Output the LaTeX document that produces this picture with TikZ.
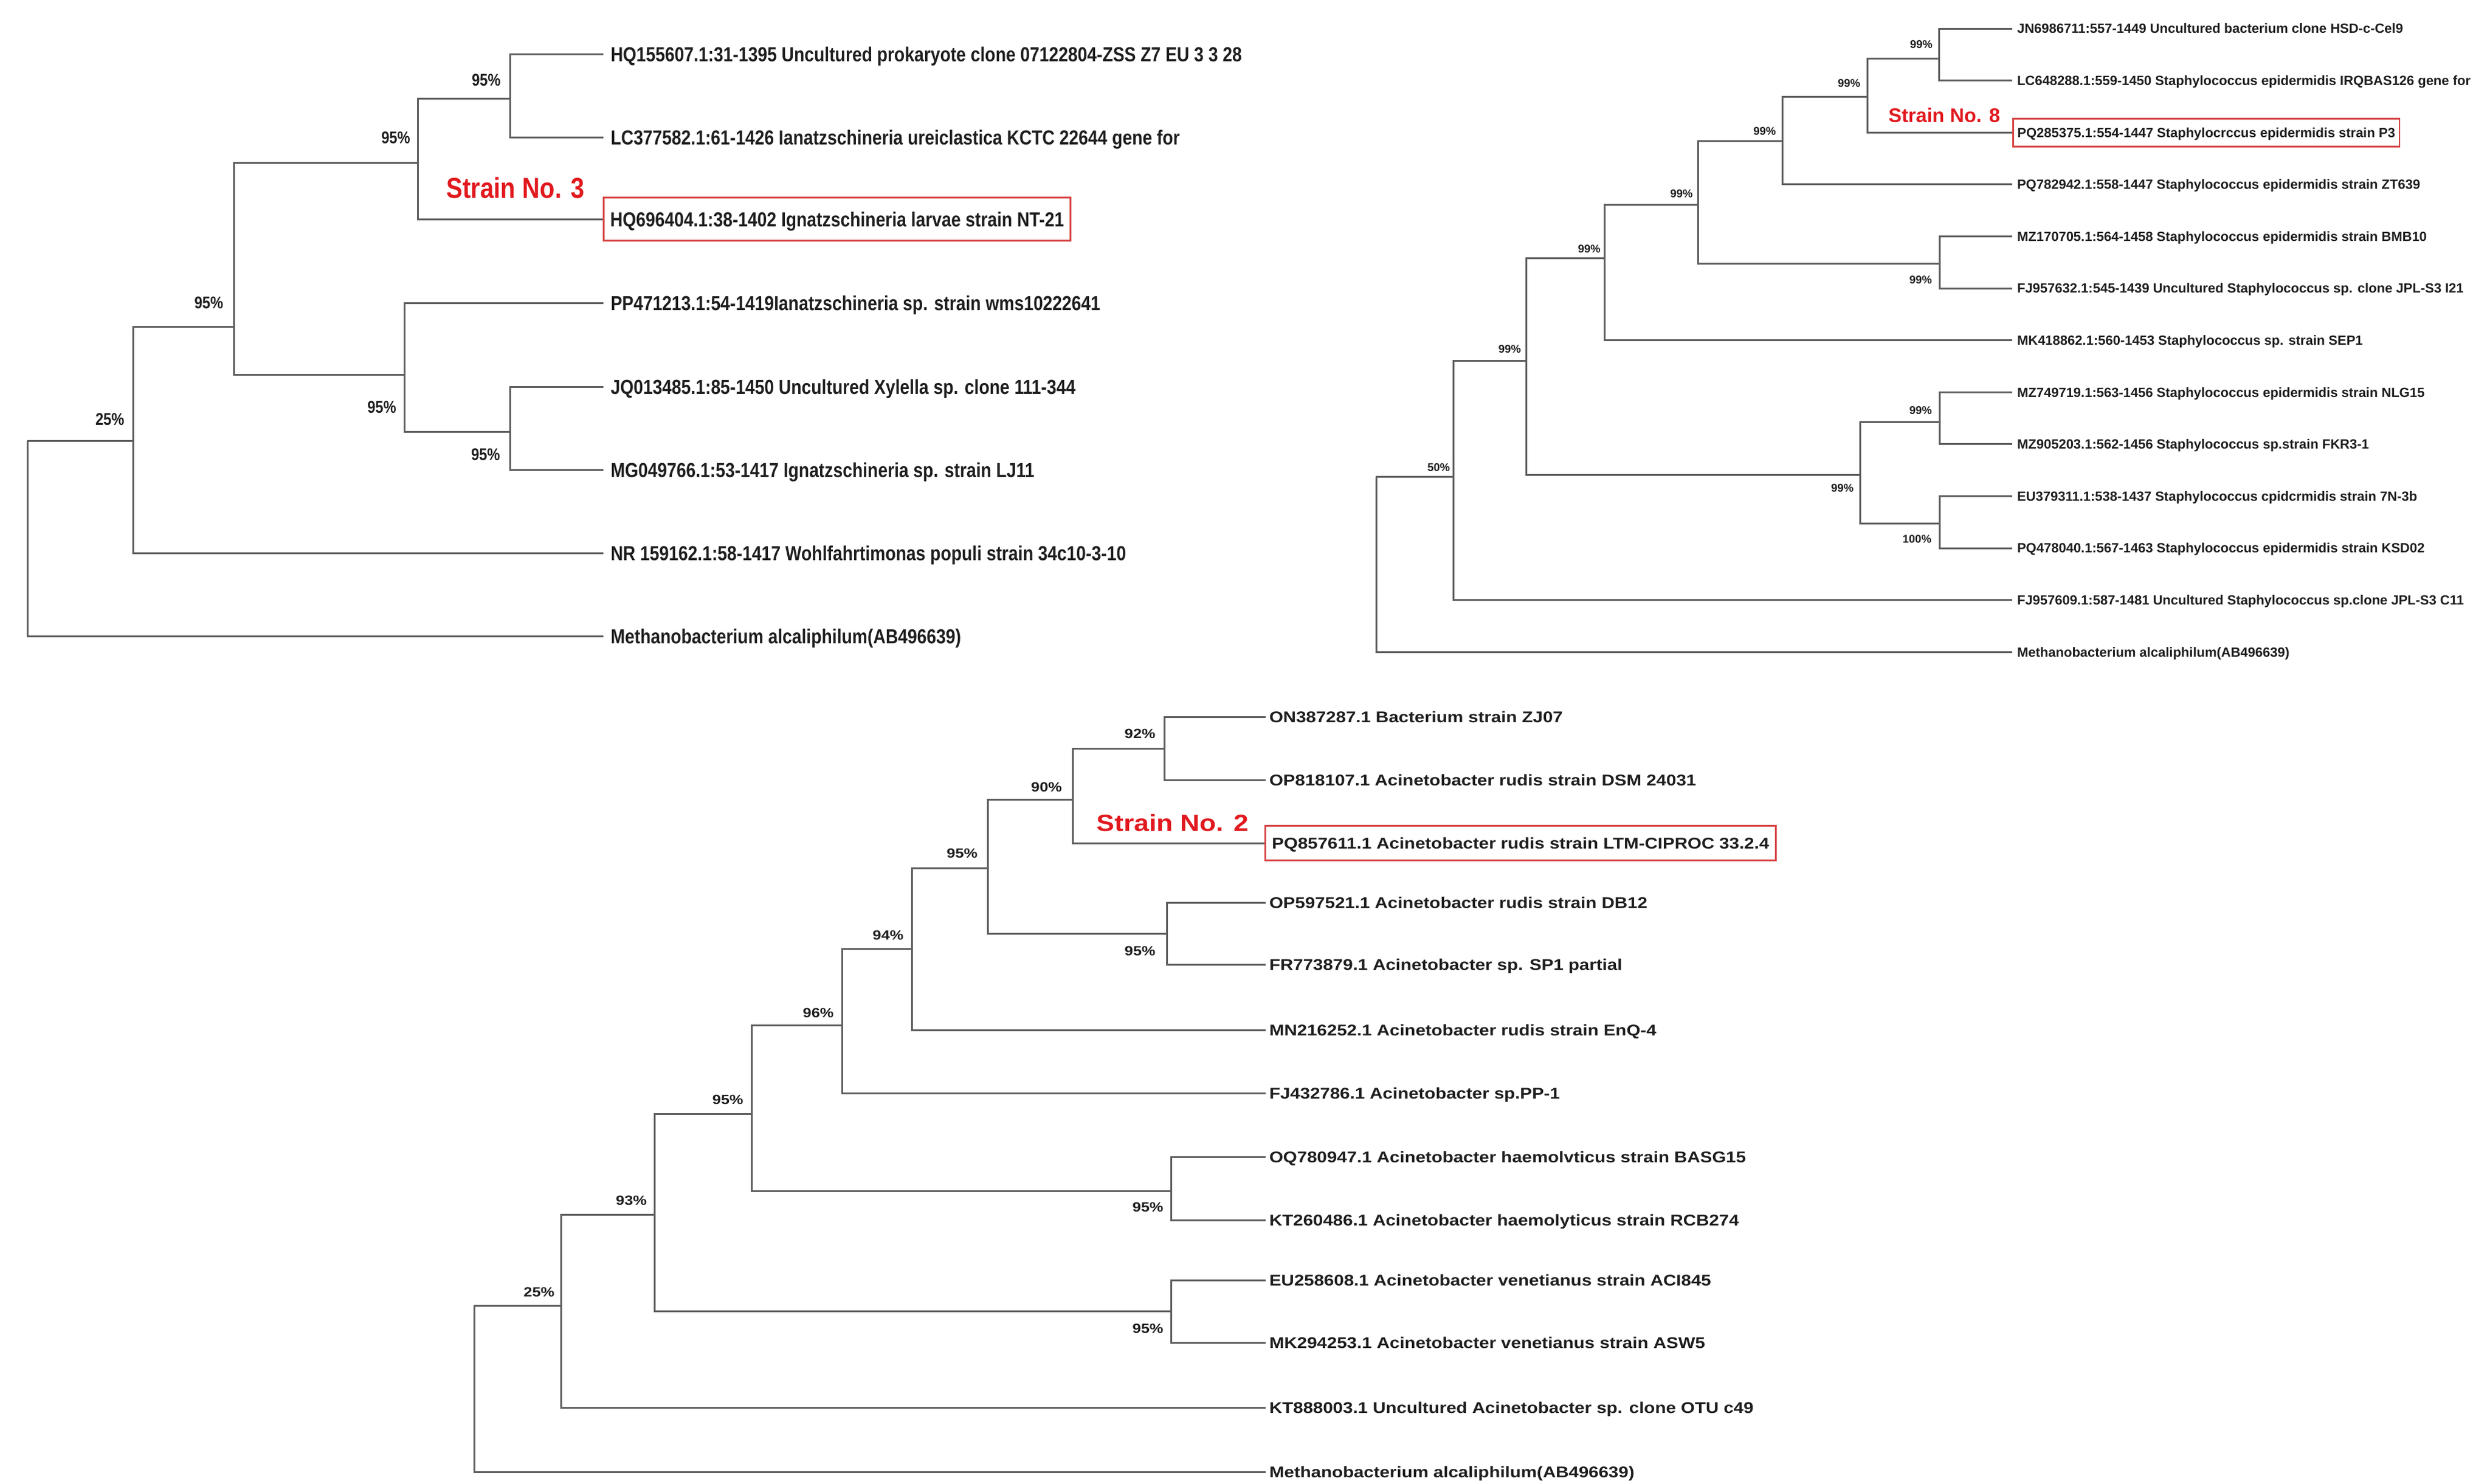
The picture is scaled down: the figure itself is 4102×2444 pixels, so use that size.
\documentclass[tikz,border=0pt]{standalone}
\usepackage{fontspec}
\newfontfamily\tlfont[FakeStretch=0.845]{Liberation Sans Bold}
\newfontfamily\trfont{Liberation Sans Bold}
\newfontfamily\btfont[FakeStretch=1.15]{Liberation Sans Bold}
\definecolor{lin}{RGB}{95,95,95}
\definecolor{sred}{RGB}{225,25,30}
\definecolor{bred}{RGB}{215,70,70}
\definecolor{txt}{RGB}{30,30,30}
\tikzset{
  br/.style={draw=lin, line width=0.6pt},
  tlleaf/.style={anchor=west, inner xsep=2.2pt, inner ysep=0pt, text=txt,
    font=\tlfont\fontsize{6.7pt}{6.7pt}\selectfont, text height=4.8pt, text depth=0pt},
  tlbox/.style={tlleaf, draw=bred, line width=0.55pt, minimum height=14.2pt, inner xsep=2.2pt},
  tlpct/.style={inner sep=0pt, text=txt, font=\tlfont\fontsize{5.6pt}{5.6pt}\selectfont},
  tlstrain/.style={inner sep=0pt, text=sred, font=\tlfont\fontsize{9.5pt}{9.5pt}\selectfont},
  trleaf/.style={anchor=west, inner xsep=1.4pt, inner ysep=0pt, text=txt,
    font=\trfont\fontsize{4.4pt}{4.4pt}\selectfont, text height=3.15pt, text depth=0pt},
  trbox/.style={trleaf, draw=bred, line width=0.55pt, minimum height=9.2pt},
  trpct/.style={inner sep=0pt, text=txt, font=\trfont\fontsize{3.7pt}{3.7pt}\selectfont},
  trstrain/.style={inner sep=0pt, text=sred, font=\trfont\fontsize{6.5pt}{6.5pt}\selectfont},
  bleaf/.style={anchor=west, inner xsep=1pt, inner ysep=0pt, text=txt,
    font=\btfont\fontsize{5.13pt}{5.13pt}\selectfont, text height=3.67pt, text depth=0pt},
  bbox/.style={bleaf, draw=bred, line width=0.55pt, minimum height=11.4pt, inner xsep=2.2pt},
  bpct/.style={inner sep=0pt, text=txt, font=\btfont\fontsize{4.4pt}{4.4pt}\selectfont},
  bstrain/.style={inner sep=0pt, text=sred, font=\btfont\fontsize{7.7pt}{7.7pt}\selectfont},
}
\begin{document}
\begin{tikzpicture}[x=0.2pt, y=-0.2pt]
\useasboundingbox[fill=white] (0,0) rectangle (4102,2444);

% ================= TOP-LEFT TREE =================
\node[tlleaf] (tl1) at (994,89) {HQ155607.1:31-1395 Uncultured prokaryote clone 07122804-ZSS Z7 EU 3 3 28};
\node[tlleaf] (tl2) at (994,226) {LC377582.1:61-1426 Ianatzschineria ureiclastica KCTC 22644 gene for};
\node[tlbox]  (tl3) at (993,361) {HQ696404.1:38-1402 Ignatzschineria larvae strain NT-21};
\node[tlleaf] (tl4) at (994,499) {PP471213.1:54-1419Ianatzschineria sp. strain wms10222641};
\node[tlleaf] (tl5) at (994,637) {JQ013485.1:85-1450 Uncultured Xylella sp. clone 111-344};
\node[tlleaf] (tl6) at (994,774) {MG049766.1:53-1417 Ignatzschineria sp. strain LJ11};
\node[tlleaf] (tl7) at (994,911) {NR 159162.1:58-1417 Wohlfahrtimonas populi strain 34c10-3-10};
\node[tlleaf] (tl8) at (994,1048) {Methanobacterium alcaliphilum(AB496639)};
\coordinate (tla) at (840,162);
\coordinate (tlb) at (688,268);
\coordinate (tlc) at (840,711);
\coordinate (tld) at (666,617);
\coordinate (tle) at (385,538);
\coordinate (tlF) at (219,726);
\coordinate (tlr) at (45,726);
\draw[br] (tla) |- (tl1.west);
\draw[br] (tla) |- (tl2.west);
\draw[br] (tlb) |- (tla);
\draw[br] (tlb) |- (tl3.west);
\draw[br] (tlc) |- (tl5.west);
\draw[br] (tlc) |- (tl6.west);
\draw[br] (tld) |- (tl4.west);
\draw[br] (tld) |- (tlc);
\draw[br] (tle) |- (tlb);
\draw[br] (tle) |- (tld);
\draw[br] (tlF) |- (tle);
\draw[br] (tlF) |- (tl7.west);
\draw[br] (tlr) |- (tlF);
\draw[br] (tlr) |- (tl8.west);
\node[tlpct] (tlpa) at (801,132) {95\%};
\node[tlpct] (tlpb) at (652,227) {95\%};
\node[tlpct] (tlpe) at (344,499) {95\%};
\node[tlpct] (tlpd) at (629,671) {95\%};
\node[tlpct] (tlpc) at (800,749) {95\%};
\node[tlpct] (tlpf) at (181,691) {25\%};
\node[tlstrain] (tls) at (849,310) {Strain No. 3};

% ================= TOP-RIGHT TREE =================
\node[trleaf] (tr1)  at (3315,47)    {JN6986711:557-1449 Uncultured bacterium clone HSD-c-Cel9};
\node[trleaf] (tr2)  at (3315,132.6) {LC648288.1:559-1450 Staphylococcus epidermidis IRQBAS126 gene for};
\node[trbox]  (tr3)  at (3315,218.2) {PQ285375.1:554-1447 Staphylocrccus epidermidis strain P3};
\node[trleaf] (tr4)  at (3315,303.8) {PQ782942.1:558-1447 Staphylococcus epidermidis strain ZT639};
\node[trleaf] (tr5)  at (3315,389.4) {MZ170705.1:564-1458 Staphylococcus epidermidis strain BMB10};
\node[trleaf] (tr6)  at (3315,475)   {FJ957632.1:545-1439 Uncultured Staphylococcus sp. clone JPL-S3 I21};
\node[trleaf] (tr7)  at (3315,560.6) {MK418862.1:560-1453 Staphylococcus sp. strain SEP1};
\node[trleaf] (tr8)  at (3315,646.2) {MZ749719.1:563-1456 Staphylococcus epidermidis strain NLG15};
\node[trleaf] (tr9)  at (3315,731.8) {MZ905203.1:562-1456 Staphylococcus sp.strain FKR3-1};
\node[trleaf] (tr10) at (3315,817.4) {EU379311.1:538-1437 Staphylococcus cpidcrmidis strain 7N-3b};
\node[trleaf] (tr11) at (3315,903)   {PQ478040.1:567-1463 Staphylococcus epidermidis strain KSD02};
\node[trleaf] (tr12) at (3315,988.6) {FJ957609.1:587-1481 Uncultured Staphylococcus sp.clone JPL-S3 C11};
\node[trleaf] (tr13) at (3315,1074.2) {Methanobacterium alcaliphilum(AB496639)};
\coordinate (trg) at (3194,96);
\coordinate (trh) at (3076,159);
\coordinate (tri) at (2936,232);
\coordinate (trj) at (3195,434);
\coordinate (trk) at (2797,337);
\coordinate (trl) at (2643,425);
\coordinate (trm) at (3195,695);
\coordinate (trn) at (3195,862);
\coordinate (tro) at (3064,782);
\coordinate (trp) at (2514,594);
\coordinate (trq) at (2394,785);
\coordinate (trr) at (2267,785);
\draw[br] (trg) |- (tr1.west);
\draw[br] (trg) |- (tr2.west);
\draw[br] (trh) |- (trg);
\draw[br] (trh) |- (tr3.west);
\draw[br] (tri) |- (trh);
\draw[br] (tri) |- (tr4.west);
\draw[br] (trj) |- (tr5.west);
\draw[br] (trj) |- (tr6.west);
\draw[br] (trk) |- (tri);
\draw[br] (trk) |- (trj);
\draw[br] (trl) |- (trk);
\draw[br] (trl) |- (tr7.west);
\draw[br] (trm) |- (tr8.west);
\draw[br] (trm) |- (tr9.west);
\draw[br] (trn) |- (tr10.west);
\draw[br] (trn) |- (tr11.west);
\draw[br] (tro) |- (trm);
\draw[br] (tro) |- (trn);
\draw[br] (trp) |- (trl);
\draw[br] (trp) |- (tro);
\draw[br] (trq) |- (trp);
\draw[br] (trq) |- (tr12.west);
\draw[br] (trr) |- (trq);
\draw[br] (trr) |- (tr13.west);
\node[trpct] (trpg) at (3165,73)  {99\%};
\node[trpct] (trph) at (3046,137) {99\%};
\node[trpct] (trpi) at (2907,216) {99\%};
\node[trpct] (trpk) at (2770,319) {99\%};
\node[trpct] (trpl) at (2618,410) {99\%};
\node[trpct] (trpj) at (3164,461) {99\%};
\node[trpct] (trpp) at (2487,575) {99\%};
\node[trpct] (trpq) at (2370,770) {50\%};
\node[trpct] (trpm) at (3164,676) {99\%};
\node[trpct] (trpo) at (3035,804) {99\%};
\node[trpct] (trpn) at (3158,888) {100\%};
\node[trstrain] (trs) at (3203,190) {Strain No. 8};

% ================= BOTTOM TREE =================
\node[bleaf] (b1)  at (2085,1181) {ON387287.1 Bacterium strain ZJ07};
\node[bleaf] (b2)  at (2085,1285) {OP818107.1 Acinetobacter rudis strain DSM 24031};
\node[bbox]  (b3)  at (2083,1389) {PQ857611.1 Acinetobacter rudis strain LTM-CIPROC 33.2.4};
\node[bleaf] (b4)  at (2085,1487) {OP597521.1 Acinetobacter rudis strain DB12};
\node[bleaf] (b5)  at (2085,1589) {FR773879.1 Acinetobacter sp. SP1 partial};
\node[bleaf] (b6)  at (2085,1697) {MN216252.1 Acinetobacter rudis strain EnQ-4};
\node[bleaf] (b7)  at (2085,1801) {FJ432786.1 Acinetobacter sp.PP-1};
\node[bleaf] (b8)  at (2085,1906) {OQ780947.1 Acinetobacter haemolvticus strain BASG15};
\node[bleaf] (b9)  at (2085,2010) {KT260486.1 Acinetobacter haemolyticus strain RCB274};
\node[bleaf] (b10) at (2085,2109) {EU258608.1 Acinetobacter venetianus strain ACI845};
\node[bleaf] (b11) at (2085,2212) {MK294253.1 Acinetobacter venetianus strain ASW5};
\node[bleaf] (b12) at (2085,2319) {KT888003.1 Uncultured Acinetobacter sp. clone OTU c49};
\node[bleaf] (b13) at (2085,2425) {Methanobacterium alcaliphilum(AB496639)};
\coordinate (br1) at (1918,1233);
\coordinate (bs) at (1767,1317);
\coordinate (bt) at (1922,1538);
\coordinate (bu) at (1627,1430);
\coordinate (bv) at (1502,1563);
\coordinate (bw) at (1387,1689);
\coordinate (bx) at (1929,1962);
\coordinate (by) at (1238,1835);
\coordinate (bz) at (1929,2160);
\coordinate (baa) at (1078,2001);
\coordinate (bbb) at (924,2151);
\coordinate (broot) at (781,2151);
\draw[br] (br1) |- (b1.west);
\draw[br] (br1) |- (b2.west);
\draw[br] (bs) |- (br1);
\draw[br] (bs) |- (b3.west);
\draw[br] (bt) |- (b4.west);
\draw[br] (bt) |- (b5.west);
\draw[br] (bu) |- (bs);
\draw[br] (bu) |- (bt);
\draw[br] (bv) |- (bu);
\draw[br] (bv) |- (b6.west);
\draw[br] (bw) |- (bv);
\draw[br] (bw) |- (b7.west);
\draw[br] (bx) |- (b8.west);
\draw[br] (bx) |- (b9.west);
\draw[br] (by) |- (bw);
\draw[br] (by) |- (bx);
\draw[br] (bz) |- (b10.west);
\draw[br] (bz) |- (b11.west);
\draw[br] (baa) |- (by);
\draw[br] (baa) |- (bz);
\draw[br] (bbb) |- (baa);
\draw[br] (bbb) |- (b12.west);
\draw[br] (broot) |- (bbb);
\draw[br] (broot) |- (b13.west);
\node[bpct] (bpr) at (1878,1209) {92\%};
\node[bpct] (bps) at (1724,1297) {90\%};
\node[bpct] (bpu) at (1585,1406) {95\%};
\node[bpct] (bpt) at (1878,1567) {95\%};
\node[bpct] (bpv) at (1463,1541) {94\%};
\node[bpct] (bpw) at (1348,1669) {96\%};
\node[bpct] (bpy) at (1199,1812) {95\%};
\node[bpct] (bpx) at (1891,1989) {95\%};
\node[bpct] (bpaa) at (1040,1978) {93\%};
\node[bpct] (bpz) at (1891,2189) {95\%};
\node[bpct] (bpbb) at (888,2129) {25\%};
\node[bstrain] (bsn) at (1932,1356) {Strain No. 2};
\end{tikzpicture}
\end{document}
